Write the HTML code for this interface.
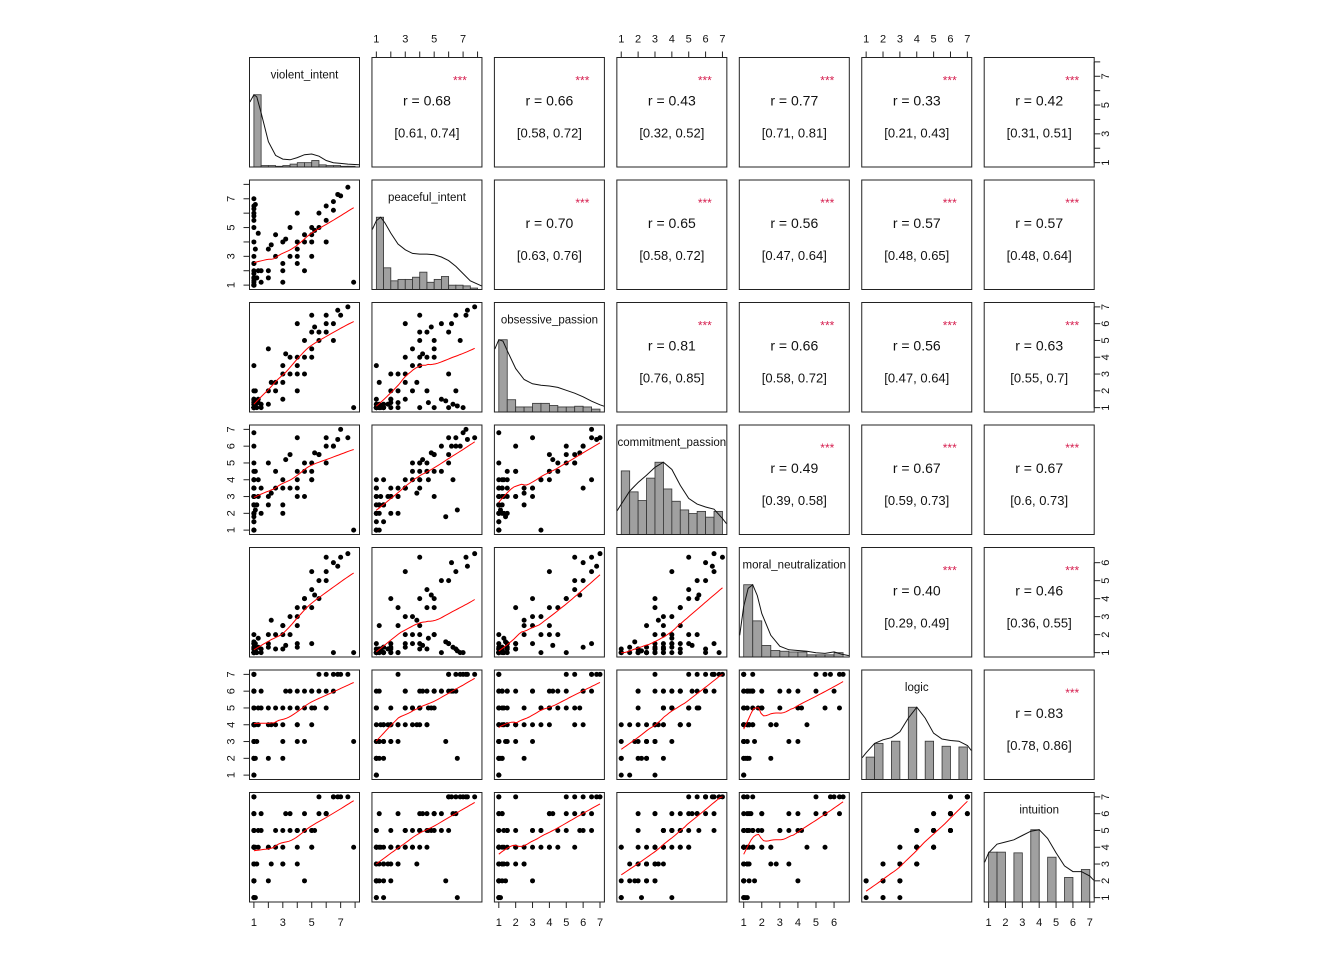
<!DOCTYPE html>
<html><head><meta charset="utf-8">
<style>
html,body{margin:0;padding:0;background:#fff;}
svg{display:block;font-family:"Liberation Sans",Arial,sans-serif;}
</style></head>
<body>
<svg id="chart" width="1344" height="960" viewBox="0 0 1344 960" xmlns="http://www.w3.org/2000/svg"></svg>
<script>
// ---------- data ----------
const varNames = ["violent_intent","peaceful_intent","obsessive_passion","commitment_passion","moral_neutralization","logic","intuition"];
const varMin = [1,1,1,1,1,1,1];
const varMax = [8,8,7,7,6.6,7,7];
const tickValues = [[1,2,3,4,5,6,7,8],[1,2,3,4,5,6,7,8],[1,2,3,4,5,6,7],[1,2,3,4,5,6,7],[1,2,3,4,5,6],[1,2,3,4,5,6,7],[1,2,3,4,5,6,7]];
const tickLabels = [["1","","3","","5","","7",""],["1","","3","","5","","7",""],["1","2","3","4","5","6","7"],["1","2","3","4","5","6","7"],["1","2","3","4","5","6"],["1","2","3","4","5","6","7"],["1","2","3","4","5","6","7"]];
// observations: violent, peaceful, obsessive, commitment, moral, logic, intuition
const violent   = [1,1,1,1,1,1,1,1,1,1,1,1,1,1,1,1,1,1,1,1,1,1,1,1,1.2,1.3,1.5,1.5,1.1,1,1,2,2.5,3,3,3.5,4,4,4.5,4.5,5,5,5.5,5.5,6,6,6.5,7,7.5,3,2,4,3.5,4,5,2.5,4.5,6,3,1,1,1,4,5,2,6.5,7.9,1,1,1.3,2.2,3.2,5.2,6.8,1.1,1];
const peaceful  = [1,1,1,1.3,1,1.5,1,2,1,1.2,1,2.5,1,1.8,1,3,1.5,1,6.3,6,5.5,4,2.5,1,1.5,2,1.2,2,3.5,5,1,2,3,2.5,4,3,4,3.5,4.5,4,5,4.5,5,6,5.5,6.5,6.2,7.2,7.8,2,1.5,2.5,5,6,3,4.5,2,4,1.2,1,1.5,1,3,4,3.5,6.8,1.2,7,6.5,4.6,3.8,4.2,4.8,7.3,6.6,5.8];
const obsessive = [1,1,1,1,1.2,1,1,1.3,1,1,1.5,1,1,1.2,1,1.5,1,1,1.2,1,1.5,1,1.3,1,1,1.5,1.2,1,2,1,3.5,2,2.5,3,3.5,3,4,3.5,4,5,4.5,5.5,5,5.5,6,6.5,6,6.5,7,1.5,1.2,2,4,3,4,2,3,5.5,2.5,1,1,1.2,6,6.5,4.5,5,1,1,2,1.3,2.5,4.2,5.8,6.8,1.1,1.4];
const commitment= [1,2,2.5,3,3.5,1.5,2,3,1,2.5,4,3,1.5,3,2,3.5,2.5,3,4,5,4.5,3.5,2,1,2.5,3,2,3.5,4.5,3,1,3,3.5,3.5,4,3.5,4.5,4,4.5,5,4.5,5,5.5,5.5,6,6.5,6,7,6.5,2,2.5,3,5.5,6.5,4,4.5,3,5,2.5,3,4,3.5,3.5,4,5,6,1,6.8,6,4,3.2,5.2,5.6,6.4,2.2,1.8];
const moral     = [1,1,1,1.2,1,1.3,1,1,1.2,1,1.5,1,1,1.2,1,1.5,1,1,1.3,1.5,1,1.2,1,1,1,1.3,1.2,1,1.5,2,1,1.5,2,2.5,2,3,2.5,3,3.5,4,3.5,4.5,4,5,5,5.5,6,6.3,6.5,1.2,1.3,3.5,2,1.5,5.5,1.2,4,6.3,2.5,1,1,1.2,1.3,1.5,2,1,1,1,1.2,1.8,2.8,1.4,4.2,5.8,1.1,1.6];
const logic     = [1,2,3,4,5,4,6,4,2,3,5,7,1,4,5,6,4,3,6,7,6,5,4,2,3,4,6,5,4,6,4,4,5,4,5,6,4,5,6,5,6,4,6,7,6,7,6,7,7,3,2,3,5,6,5,4,3,5,2,1,3,2,4,6,5,7,3,7,6,5,4,6,5,7,2,3];
const intuition = [1,2,3,4,4,3,5,4,1,2,5,6,2,3,4,5,4,4,6,7,5,5,3,2,3,4,6,5,4,6,4,4,4,4,5,5,4,5,6,5,5,4,6,7,6,6,7,7,7,3,2,3,6,5,4,5,2,6,3,2,1,3,5,5,4,7,4,7,7,5,3,6,5,7,1,2];
const obs = [violent,peaceful,obsessive,commitment,moral,logic,intuition];
// histograms (bin start, bin width, bar heights)
const histStart = [1,1,1,1,1,1,1];
const histWidth = [0.5,0.5,0.5,0.5,0.5,0.5,0.5];
const histViolent    = [100,2,2,1,2,4,6,6,9,3,2,2,1,1];
const histPeaceful   = [100,30,12,14,14,17,24,10,14,18,6,6,5,2];
const histObsessive  = [100,17,7,7,12,12,9,7,7,8,7,4];
const histCommitment = [88,59,47,78,100,63,46,34,29,32,24,32];
const histMoral      = [100,50,16,9,8,7,7,3,3,3,6];
const histLogic      = [31,50,0,53,0,100,0,53,0,46,0,45];
const histIntuition  = [69,69,0,68,0,100,0,62,0,34,0,45];
const hists = [histViolent,histPeaceful,histObsessive,histCommitment,histMoral,histLogic,histIntuition];
// density curves (relative)
const densX = [
 [0.72,1,1.2,1.5,2,2.5,3,3.5,4,4.5,5,5.5,6,6.5,7,7.5,8.28],
 [0.72,1,1.3,1.6,2,2.5,3,3.5,4,4.5,5,5.5,6,6.5,7,7.5,8.28],
 [0.76,1,1.25,1.5,2,2.5,3,3.5,4,4.5,5,5.5,6,6.5,7,7.24],
 [0.76,1,1.5,2,2.5,3,3.5,4,4.5,5,5.5,6,6.5,7,7.24],
 [0.78,1,1.25,1.5,1.75,2,2.5,3,3.5,4,4.5,5,5.5,6,6.4,6.82],
 [0.76,1,1.5,2,2.5,3,3.5,4,4.5,5,5.5,6,6.5,7,7.24],
 [0.76,1,1.5,2,2.5,3,3.5,4,4.5,5,5.5,6,6.5,7,7.24]];
const densY = [
 [0.9,1.0,0.97,0.75,0.35,0.16,0.11,0.1,0.13,0.17,0.18,0.15,0.09,0.06,0.05,0.04,0.03],
 [0.83,0.95,1.0,0.92,0.78,0.63,0.55,0.5,0.49,0.49,0.48,0.45,0.4,0.32,0.22,0.12,0.05],
 [0.87,1,0.98,0.85,0.6,0.45,0.39,0.37,0.36,0.34,0.3,0.26,0.21,0.15,0.1,0.08],
 [0.33,0.42,0.6,0.72,0.82,0.93,1.0,0.9,0.68,0.5,0.42,0.38,0.35,0.22,0.15],
 [0.3,0.7,0.95,1.0,0.85,0.6,0.3,0.15,0.1,0.09,0.08,0.06,0.05,0.07,0.04,0.02],
 [0.3,0.37,0.5,0.55,0.58,0.66,0.85,1.0,0.85,0.64,0.56,0.54,0.53,0.47,0.4],
 [0.55,0.68,0.8,0.83,0.86,0.92,0.98,1.0,0.88,0.68,0.5,0.42,0.42,0.36,0.3]];
// correlations (upper triangle, row-major)
const corrR  = ["0.68","0.66","0.43","0.77","0.33","0.42","0.70","0.65","0.56","0.57","0.57","0.81","0.66","0.56","0.63","0.49","0.67","0.67","0.40","0.46","0.83"];
const corrCI = ["[0.61, 0.74]","[0.58, 0.72]","[0.32, 0.52]","[0.71, 0.81]","[0.21, 0.43]","[0.31, 0.51]","[0.63, 0.76]","[0.58, 0.72]","[0.47, 0.64]","[0.48, 0.65]","[0.48, 0.64]","[0.76, 0.85]","[0.58, 0.72]","[0.47, 0.64]","[0.55, 0.7]","[0.39, 0.58]","[0.59, 0.73]","[0.6, 0.73]","[0.29, 0.49]","[0.36, 0.55]","[0.78, 0.86]"];
const corrStars = ["***","***","***","***","***","***","***","***","***","***","***","***","***","***","***","***","***","***","***","***","***"];

// ---------- layout ----------
const NS="http://www.w3.org/2000/svg";
const svg=document.getElementById('chart');
const PL=249.5, PT=57.5, STEP_X=122.45, STEP_Y=122.5, PW=110, PH=109.5;
function mk(tag,attrs,parent){const e=document.createElementNS(NS,tag);for(const k in attrs)e.setAttribute(k,attrs[k]);(parent||svg).appendChild(e);return e;}
function sx(v,i,col){const l=PL+col*STEP_X;return l+PW*0.04+(v-varMin[i])/(varMax[i]-varMin[i])*PW*0.92;}
function sy(v,i,row){const b=PT+row*STEP_Y+PH;return b-PH*0.04-(v-varMin[i])/(varMax[i]-varMin[i])*PH*0.92;}

function lowess(xs,ys,x0s){
  const n=xs.length,k=Math.max(3,Math.ceil(n*2/3));const out=[];
  for(const x0 of x0s){
    const d=xs.map((x,idx)=>[Math.abs(x-x0),idx]).sort((a,b)=>a[0]-b[0]);
    const h=Math.max(d[k-1][0],1e-6)*1.0001;
    let sw=0,sx_=0,sy_=0,sxx=0,sxy=0;
    for(let q=0;q<k;q++){const u=d[q][0]/h;const w=Math.pow(1-u*u*u,3);const idx=d[q][1];
      sw+=w;sx_+=w*xs[idx];sy_+=w*ys[idx];sxx+=w*xs[idx]*xs[idx];sxy+=w*xs[idx]*ys[idx];}
    const mx=sx_/sw,my=sy_/sw,vx=sxx/sw-mx*mx;
    out.push(vx>1e-9?my+(sxy/sw-mx*my)/vx*(x0-mx):my);
  }
  return out;
}

let ci=0;
for(let r=0;r<7;r++){
  for(let c=0;c<7;c++){
    const l=PL+c*STEP_X,t=PT+r*STEP_Y;
    const g=mk('g',{});
    if(r===c){
      
      
      const h=hists[r];const mx=Math.max(...h);const base=t+PH;
      h.forEach((v,b)=>{
        if(v<=0)return;
        const x0=histStart[r]+b*histWidth[r],x1=x0+histWidth[r];
        const px0=sx(x0,r,c),px1=sx(x1,r,c);const hh=v/mx*PH*0.66;
        const rect=mk('rect',{x:px0,y:base-hh,width:px1-px0,height:hh,fill:'#a0a0a0',stroke:'#333','stroke-width':0.8},g);
        
        
      });
      const dx=densX[r],dy=densY[r];
      const pts=dx.map((x,q)=>sx(x,r,c).toFixed(1)+','+(base-dy[q]*PH*0.66).toFixed(1)).join(' ');
      const dl=mk('polyline',{points:pts,fill:'none',stroke:'#111','stroke-width':1},g);
      
      
      const tx=mk('text',{x:l+PW/2,y:t+21,'text-anchor':'middle','font-size':11.5,fill:'#111'},g);
      tx.textContent=varNames[r];
      
      
    } else if(c>r){
      
      
      const st=mk('text',{x:l+88,y:t+27,'text-anchor':'middle','font-size':12,fill:'#d62050'},g);
      st.textContent=corrStars[ci];
      
      
      const rt=mk('text',{x:l+PW/2,y:t+48,'text-anchor':'middle','font-size':14,fill:'#111'},g);
      rt.textContent='r  = '+corrR[ci];
      
      
      const ct=mk('text',{x:l+PW/2,y:t+80,'text-anchor':'middle','font-size':13,fill:'#111'},g);
      ct.textContent=corrCI[ci];
      
      
      ci++;
    } else {
      
      
      const xs=obs[c],ys=obs[r];
      xs.forEach((x,q)=>{
        const p=mk('circle',{cx:sx(x,c,c),cy:sy(ys[q],r,r),r:2.5,fill:'#000'},g);
        
        
      });
      const lo=Math.min(...xs),hi=Math.max(...xs);const grid=[];
      for(let q=0;q<=40;q++)grid.push(lo+(hi-lo)*q/40);
      const fit=lowess(xs,ys,grid);
      const pts=grid.map((x,q)=>sx(x,c,c).toFixed(1)+','+sy(Math.max(varMin[r],Math.min(varMax[r],fit[q])),r,r).toFixed(1)).join(' ');
      const ln=mk('polyline',{points:pts,fill:'none',stroke:'#ff0000','stroke-width':1},g);
      
      
    }
    const box=mk('rect',{x:l,y:t,width:PW,height:PH,fill:'none',stroke:'#222','stroke-width':1},g);
    
    
  }
}
// ---------- axes ----------
function axis(i,side){
  const g=mk('g',{});
  
  
  const tv=tickValues[i],tl=tickLabels[i];
  if(side==='top'||side==='bottom'){
    const y=side==='top'?PT:PT+6*STEP_Y+PH;const d=side==='top'?-6:6;
    mk('line',{x1:sx(tv[0],i,i),x2:sx(tv[tv.length-1],i,i),y1:y,y2:y,stroke:'#222','stroke-width':1},g);
    tv.forEach((v,q)=>{const x=sx(v,i,i);
      mk('line',{x1:x,x2:x,y1:y,y2:y+d,stroke:'#222','stroke-width':1},g);
      if(tl[q]){const t=mk('text',{x:x,y:side==='top'?y-15:y+24,'text-anchor':'middle','font-size':11,fill:'#111'},g);t.textContent=tl[q];}
    });
  } else {
    const x=side==='left'?PL:PL+6*STEP_X+PW;const d=side==='left'?-6:6;
    mk('line',{x1:x,x2:x,y1:sy(tv[0],i,i),y2:sy(tv[tv.length-1],i,i),stroke:'#222','stroke-width':1},g);
    tv.forEach((v,q)=>{const y=sy(v,i,i);
      mk('line',{x1:x,x2:x+d,y1:y,y2:y,stroke:'#222','stroke-width':1},g);
      if(tl[q]){const tx=side==='left'?x-15:x+15;
        const t=mk('text',{x:tx,y:y,'text-anchor':'middle','font-size':11,fill:'#111',transform:'rotate(-90 '+tx+' '+y+')'},g);t.textContent=tl[q];}
    });
  }
}
for(let i=0;i<7;i++){
  if(i%2===1){axis(i,'top');axis(i,'left');}
  else{axis(i,'bottom');axis(i,'right');}
}
</script>
</body></html>
